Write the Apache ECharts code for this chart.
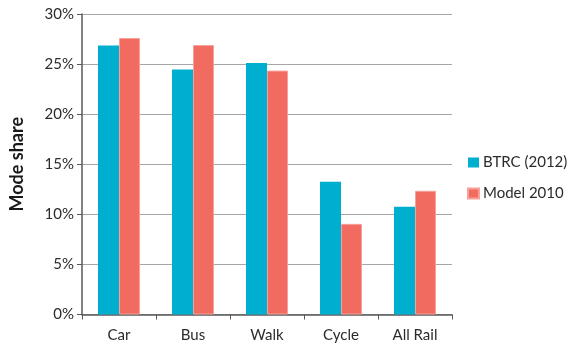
<!DOCTYPE html>
<html>
<head>
<meta charset="utf-8">
<script src="https://cdn.jsdelivr.net/npm/echarts@6/dist/echarts.min.js"></script>
<style>
  html, body { margin: 0; padding: 0; background: #fff; }
  #chart { width: 569px; height: 345px; }
</style>
</head>
<body>
<div id="chart"></div>
<script>
var categories = ["Car", "Bus", "Walk", "Cycle", "All Rail"];
var btrc2012 = [26.85, 24.45, 25.1, 13.25, 10.75];
var model2010 = [27.6, 26.9, 24.35, 9.05, 12.35];
var seriesNames = ["BTRC (2012)", "Model 2010"];

var font = "Lato, 'Open Sans', sans-serif";
var chart = echarts.init(document.getElementById("chart"));
chart.setOption({
    animation: false,
    textStyle: { fontFamily: font },
    grid: { left: 80, right: 117, top: 14, bottom: 30.5 },
    legend: {
        orient: "vertical",
        left: 467,
        top: 155,
        padding: 0,
        itemWidth: 11,
        itemHeight: 10,
        itemGap: 16,
        icon: "rect",
        textStyle: { fontSize: 15, color: "#2b2b2b", fontFamily: font, padding: [0, 0, 0, -1] },
        data: seriesNames
    },
    xAxis: {
        type: "category",
        data: categories,
        axisLine: { lineStyle: { color: "#595959", width: 1.5 } },
        axisTick: { show: true, length: 5, lineStyle: { color: "#595959" } },
        axisLabel: { fontSize: 15, color: "#2b2b2b", margin: 13 }
    },
    yAxis: {
        type: "value",
        min: 0,
        max: 30,
        interval: 5,
        name: "Mode share",
        nameLocation: "middle",
        nameGap: 56,
        nameTextStyle: { fontSize: 18, fontWeight: "bold", color: "#1a1a1a" },
        axisLine: { show: true, lineStyle: { color: "#595959", width: 1.5 } },
        axisTick: { show: true, length: 5, lineStyle: { color: "#595959" } },
        axisLabel: { fontSize: 15, color: "#2b2b2b", margin: 8, formatter: "{value}%" },
        splitLine: { lineStyle: { color: "#a6a6a6", width: 1.2 } }
    },
    series: [
        {
            name: seriesNames[0],
            type: "bar",
            data: btrc2012,
            barWidth: 21,
            barGap: "0%",
            itemStyle: { color: "#00aed0" }
        },
        {
            name: seriesNames[1],
            type: "bar",
            data: model2010,
            barWidth: 21,
            itemStyle: { color: "#f26b61", borderColor: "#f7a19a", borderWidth: 1 }
        }
    ]
});
</script>
</body>
</html>
